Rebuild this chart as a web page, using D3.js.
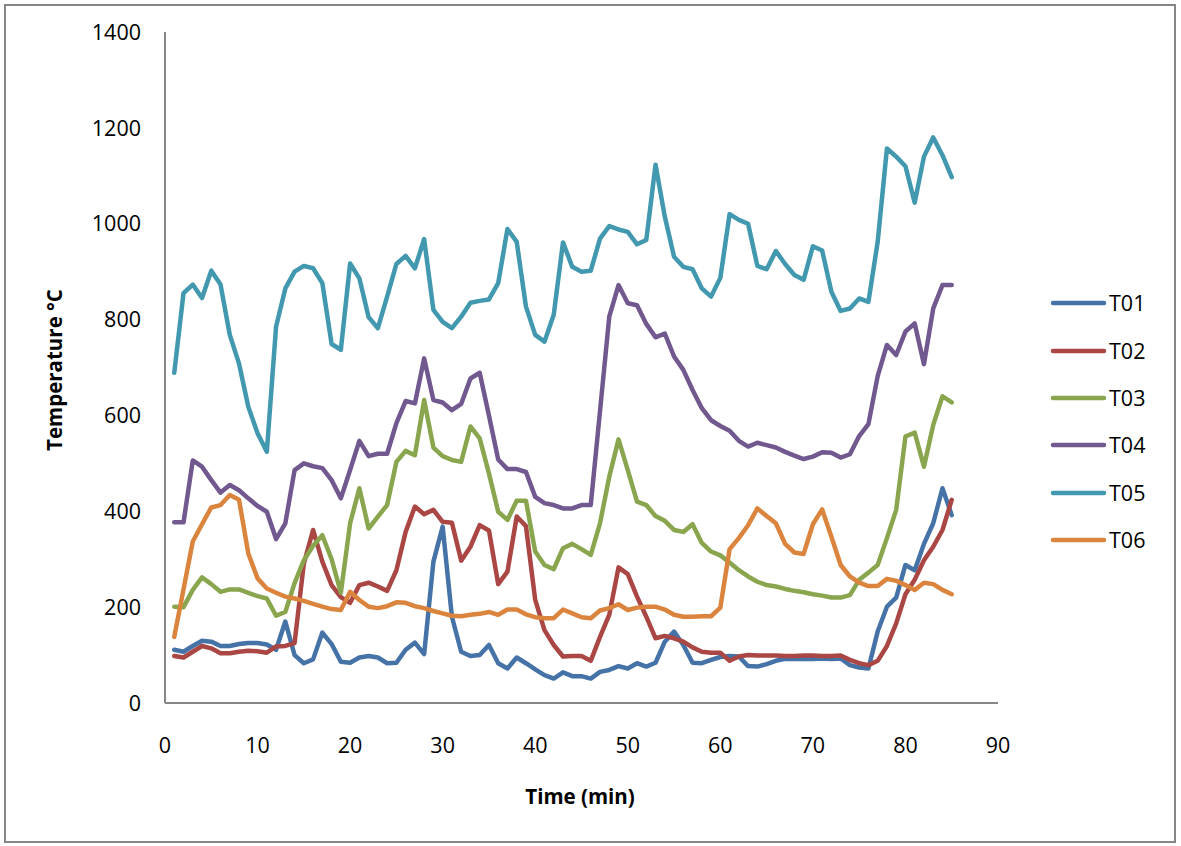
<!DOCTYPE html>
<html>
<head>
<meta charset="utf-8">
<script src="https://cdn.jsdelivr.net/npm/d3@7"></script>
<style>
html,body{margin:0;padding:0;background:#fff;}
svg{display:block;}
text{font-family:"Open Sans","Liberation Sans",sans-serif;}
</style>
</head>
<body>
<svg id="chart" width="1181" height="846"></svg>
<script>
const minutes = [1,2,3,4,5,6,7,8,9,10,11,12,13,14,15,16,17,18,19,20,21,22,23,24,25,26,27,28,29,30,
31,32,33,34,35,36,37,38,39,40,41,42,43,44,45,46,47,48,49,50,51,52,53,54,55,56,57,58,59,60,
61,62,63,64,65,66,67,68,69,70,71,72,73,74,75,76,77,78,79,80,81,82,83,84,85];

const seriesNames = ["T01","T02","T03","T04","T05","T06"];
const seriesColors = ["#4572A7","#AA4643","#89A54E","#71588F","#4198AF","#DB843D"];

const T01 = [111,107,119,130,128,119,119,123,125,125,122,111,170,100,83,91,147,123,86,84,
95,98,95,83,84,111,126,102,295,368,180,107,98,100,121,83,72,95,83,70,
58,51,64,56,56,51,65,69,77,72,83,76,84,128,149,121,84,83,90,96,
98,97,77,76,81,88,92,92,92,92,93,92,93,79,74,72,149,201,220,288,
277,332,375,448,392];
const T02 = [98,95,107,119,114,104,104,107,109,108,105,118,119,125,291,361,295,246,221,209,
246,251,243,234,277,357,410,394,403,378,376,297,326,371,360,248,274,389,369,215,
152,121,97,98,98,88,138,184,283,269,222,180,135,140,135,128,116,107,105,105,
88,97,100,99,99,99,98,98,99,99,98,98,99,90,83,79,88,119,166,227,
257,298,326,361,424];
const T03 = [201,200,236,262,248,232,237,237,230,223,218,182,190,250,298,328,350,300,230,375,
448,364,389,413,503,526,517,632,533,515,507,503,577,552,479,399,382,422,422,316,
288,279,323,332,321,309,375,472,550,486,420,413,390,380,361,357,373,334,316,308,
293,277,264,253,246,243,238,234,231,227,224,220,220,225,257,272,288,344,403,556,
564,493,580,640,627];
const T04 = [377,377,506,493,465,439,455,444,427,411,399,342,375,486,500,494,490,465,427,486,
547,515,520,520,584,630,625,719,632,627,611,624,677,689,600,508,488,488,482,430,
417,413,406,406,413,413,609,806,872,834,830,791,763,771,723,695,653,615,590,578,
568,547,535,543,538,533,524,516,509,514,523,522,512,519,557,582,682,747,726,775,
792,707,823,872,872];
const T05 = [689,855,873,845,902,873,768,708,618,563,524,785,865,900,912,907,876,749,737,917,
886,805,782,848,916,933,907,968,820,795,782,806,835,839,842,876,989,962,827,768,
754,810,961,910,900,902,969,995,988,983,957,966,1123,1015,931,910,905,865,848,887,
1020,1008,1000,912,905,943,916,893,883,953,944,858,818,823,844,837,962,1157,1140,1120,
1044,1140,1180,1143,1097];
const T06 = [138,237,337,373,408,413,434,424,312,260,239,230,222,218,213,207,201,196,194,232,
215,201,198,202,210,209,202,198,192,187,182,181,184,186,190,184,195,195,185,179,
177,177,195,187,179,177,193,198,206,194,199,201,201,195,184,180,180,181,181,199,
321,344,371,406,390,375,332,314,311,373,404,347,288,264,251,244,244,259,255,246,
236,251,248,236,227];

const xTicks = [0,10,20,30,40,50,60,70,80,90];
const yTicks = [0,200,400,600,800,1000,1200,1400];

const allSeries = [T01,T02,T03,T04,T05,T06];

const svg = d3.select("#chart");
const axisColor = "#868686";

// outer border
svg.append("rect").attr("x",5).attr("y",5).attr("width",1170).attr("height",837)
  .attr("fill","#fff").attr("stroke",axisColor).attr("stroke-width",2);

const x = d3.scaleLinear().domain([0,90]).range([165,998]);
const y = d3.scaleLinear().domain([0,1400]).range([703,32]);

// axes lines
svg.append("line").attr("x1",x(0)).attr("x2",x(0)).attr("y1",y(1400)).attr("y2",y(0))
  .attr("stroke",axisColor).attr("stroke-width",2);
svg.append("line").attr("x1",x(0)).attr("x2",x(90)).attr("y1",y(0)).attr("y2",y(0))
  .attr("stroke",axisColor).attr("stroke-width",2);

// y tick labels
svg.append("g").selectAll("text").data(yTicks).join("text")
  .attr("x",141).attr("y",d=>y(d)).attr("dy","0.36em")
  .attr("text-anchor","end")
  .style("font-size","21.5px").attr("fill","#000")
  .text(d=>d);

// x tick labels
svg.append("g").selectAll("text").data(xTicks).join("text")
  .attr("x",d=>x(d)).attr("y",745).attr("dy","0.36em")
  .attr("text-anchor","middle")
  .style("font-size","21.5px").attr("fill","#000")
  .text(d=>d);

// axis titles
svg.append("text")
  .attr("x",580).attr("y",797).attr("dy","0.36em").attr("text-anchor","middle")
  .style("font-size","20.5px").style("font-weight","bold").text("Time (min)");
svg.append("text")
  .attr("transform","translate(55,370) rotate(-90)").attr("dy","0.36em").attr("text-anchor","middle")
  .style("font-size","20.5px").style("font-weight","bold").text("Temperature °C");

// lines
const line = d3.line().x((d,i)=>x(minutes[i])).y(d=>y(d));
svg.append("g").selectAll("path").data(allSeries).join("path")
  .attr("d",d=>line(d))
  .attr("fill","none")
  .attr("stroke",(d,i)=>seriesColors[i])
  .attr("stroke-width",4.5)
  .attr("stroke-linejoin","round")
  .attr("stroke-linecap","round");

// legend
const legendY = [303,351,398,445,493,540];
const lg = svg.append("g").selectAll("g").data(seriesNames).join("g")
  .attr("transform",(d,i)=>`translate(0,${legendY[i]})`);
lg.append("line").attr("x1",1053).attr("x2",1104).attr("y1",0).attr("y2",0)
  .attr("stroke",(d,i)=>seriesColors[i]).attr("stroke-width",4.5).attr("stroke-linecap","round");
lg.append("text").attr("x",1109).attr("y",0).attr("dy","0.36em")
  .style("font-size","21.5px").attr("fill","#000").text(d=>d);
</script>
</body>
</html>
